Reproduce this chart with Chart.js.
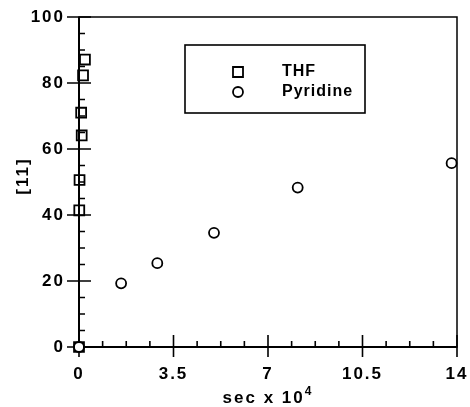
<!DOCTYPE html>
<html>
<head>
<meta charset="utf-8">
<script src="https://cdn.jsdelivr.net/npm/chart.js@4/dist/chart.umd.min.js"></script>
<style>
  html, body { margin: 0; padding: 0; background: #fff; }
  #wrap { width: 470px; height: 407px; }
</style>
</head>
<body>
<div id="wrap"><canvas id="myChart"></canvas></div>
<script>
// [11] vs time (sec x 10^4)
const thfTime = [0, 0.01, 0.02, 0.1, 0.08, 0.15, 0.22]
const thfConc = [0, 41.4, 50.6, 64.1, 71, 82.3, 87.1]
const pyrTime = [0, 1.56, 2.9, 5.0, 8.1, 13.8]
const pyrConc = [0, 19.3, 25.4, 34.6, 48.3, 55.7]

const xTicks = [0, 3.5, 7, 10.5, 14]
const yTicks = [0, 20, 40, 60, 80, 100]

const FONT = "'Liberation Sans', Arial, Helvetica, sans-serif"

const toPoints = (xs, ys) => xs.map((v, i) => ({ x: v, y: ys[i] }))

// minor ticks: 4 subdivisions between majors
function minors(majors) {
  const out = []
  for (let i = 0; i < majors.length - 1; i++) {
    const step = (majors[i + 1] - majors[i]) / 4
    for (let k = 1; k < 4; k++) out.push(majors[i] + step * k)
  }
  return out
}

const axisFrame = {
  id: 'axisFrame',
  beforeDraw(chart) {
    chart.ctx.letterSpacing = '2px'
  },
  beforeDatasetsDraw(chart) {
    const { ctx, chartArea: a, scales: { x, y } } = chart
    ctx.save()
    ctx.strokeStyle = '#000'
    ctx.lineWidth = 1.5
    ctx.strokeRect(a.left, a.top, a.right - a.left, a.bottom - a.top)

    ctx.lineWidth = 2
    ctx.beginPath()
    ctx.moveTo(a.left, a.top)
    ctx.lineTo(a.left, a.bottom)
    ctx.lineTo(a.right, a.bottom)
    ctx.stroke()

    ctx.lineWidth = 1.6
    ctx.beginPath()
    yTicks.forEach(v => {
      const py = y.getPixelForValue(v)
      ctx.moveTo(a.left - 12, py)
      ctx.lineTo(a.left + 12, py)
    })
    minors(yTicks).forEach(v => {
      const py = y.getPixelForValue(v)
      ctx.moveTo(a.left, py)
      ctx.lineTo(a.left + 6, py)
    })
    xTicks.forEach(v => {
      const px = x.getPixelForValue(v)
      ctx.moveTo(px, a.bottom + 10)
      ctx.lineTo(px, a.bottom - 12)
    })
    minors(xTicks).forEach(v => {
      const px = x.getPixelForValue(v)
      ctx.moveTo(px, a.bottom)
      ctx.lineTo(px, a.bottom - 6)
    })
    ctx.stroke()
    ctx.restore()
  },
  afterDraw(chart) {
    const { ctx, chartArea: a } = chart
    ctx.save()
    ctx.fillStyle = '#000'
    ctx.strokeStyle = '#000'

    // axis titles
    ctx.font = `bold 17px ${FONT}`
    ctx.letterSpacing = '2px'
    ctx.textBaseline = 'alphabetic'
    ctx.textAlign = 'left'
    const main = 'sec x 10'
    const wMain = ctx.measureText(main).width
    ctx.font = `bold 12px ${FONT}`
    const wSup = ctx.measureText('4').width
    const startX = (a.left + a.right) / 2 - (wMain + wSup) / 2
    ctx.font = `bold 17px ${FONT}`
    ctx.fillText(main, startX, 403)
    ctx.font = `bold 12px ${FONT}`
    ctx.fillText('4', startX + wMain, 395)

    ctx.save()
    ctx.translate(23, 176)
    ctx.rotate(-Math.PI / 2)
    ctx.font = `bold 17px ${FONT}`
    ctx.textAlign = 'center'
    ctx.textBaseline = 'middle'
    ctx.fillText('[11]', 0, 0)
    ctx.restore()

    // legend box
    const bx = a.left + 106, by = a.top + 28, bw = 180, bh = 68
    ctx.lineWidth = 1.6
    ctx.strokeRect(bx, by, bw, bh)
    ctx.font = `bold 16px ${FONT}`
    ctx.letterSpacing = '1px'
    ctx.textBaseline = 'middle'
    chart.data.datasets.forEach((ds, i) => {
      const cy = by + 27 + i * 20
      const cx = bx + 53
      ctx.lineWidth = 1.8
      ctx.beginPath()
      if (ds.pointStyle === 'rect') {
        ctx.rect(cx - 5, cy - 5, 10, 10)
      } else {
        ctx.arc(cx, cy, 5, 0, Math.PI * 2)
      }
      ctx.stroke()
      ctx.fillText(ds.label, bx + 97, cy)
    })
    ctx.restore()
  }
}

new Chart(document.getElementById('myChart').getContext('2d'), {
  type: 'scatter',
  data: {
    datasets: [
      {
        label: 'THF',
        data: toPoints(thfTime, thfConc),
        pointStyle: 'rect',
        pointRadius: 7,
        pointBorderWidth: 1.8,
        borderColor: '#000',
        backgroundColor: 'rgba(0,0,0,0)',
        clip: false
      },
      {
        label: 'Pyridine',
        data: toPoints(pyrTime, pyrConc),
        pointStyle: 'circle',
        pointRadius: 5,
        pointBorderWidth: 1.8,
        borderColor: '#000',
        backgroundColor: '#fff',
        clip: false
      }
    ]
  },
  options: {
    animation: false,
    responsive: true,
    maintainAspectRatio: false,
    events: [],
    layout: { padding: { left: 0, top: 17, right: 13, bottom: 0 } },
    plugins: {
      legend: { display: false },
      tooltip: { enabled: false }
    },
    scales: {
      x: {
        type: 'linear',
        min: 0,
        max: 14,
        afterBuildTicks: s => { s.ticks = xTicks.map(v => ({ value: v })) },
        afterFit: s => { s.height = 60 },
        grid: { display: false, drawTicks: true, tickLength: 15 },
        border: { display: false },
        ticks: {
          padding: 2,
          maxRotation: 0,
          color: '#000',
          font: { family: FONT, size: 17, weight: 'bold' },
          callback: v => String(v)
        }
      },
      y: {
        type: 'linear',
        min: 0,
        max: 100,
        afterBuildTicks: s => { s.ticks = yTicks.map(v => ({ value: v })) },
        afterFit: s => { s.width = 79 },
        grid: { display: false, drawTicks: true, tickLength: 12 },
        border: { display: false },
        ticks: {
          padding: 2,
          color: '#000',
          font: { family: FONT, size: 17, weight: 'bold' },
          callback: v => String(v)
        }
      }
    }
  },
  plugins: [axisFrame]
})
</script>
</body>
</html>
